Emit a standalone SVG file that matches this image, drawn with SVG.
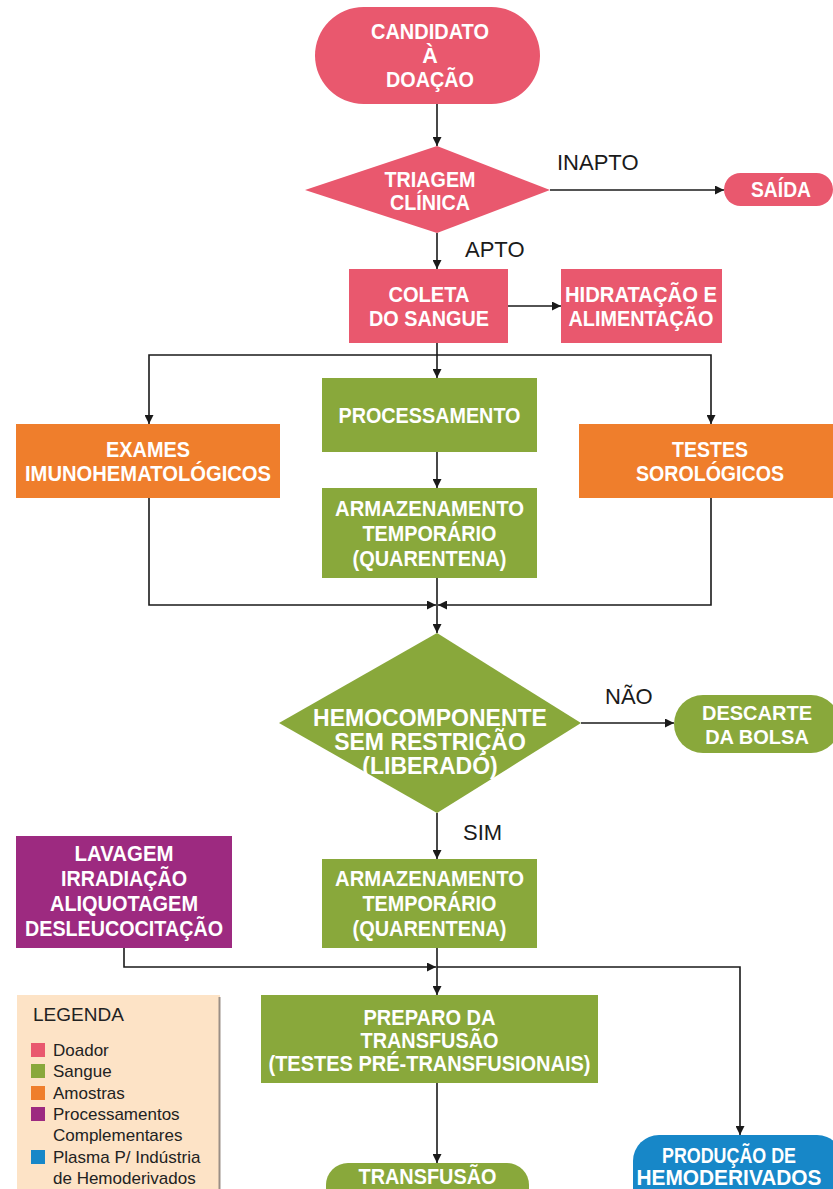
<svg xmlns="http://www.w3.org/2000/svg" width="833" height="1189" viewBox="0 0 833 1189">
<defs>
<marker id="arr" viewBox="0 0 10 10" refX="10" refY="5" markerWidth="10" markerHeight="9" markerUnits="userSpaceOnUse" orient="auto">
<path d="M0,0 L10,5 L0,10 z" fill="#1a1a1a"/>
</marker>
<style>
.pink{fill:#E9586E}
.green{fill:#89A83B}
.orange{fill:#EF7E2C}
.purple{fill:#9D2A80}
.blue{fill:#1787C8}
.t{font-family:"Liberation Sans",Arial,sans-serif;font-weight:bold;font-size:21.5px;fill:#fff;text-anchor:middle}
.big{font-size:23px}
.md{font-size:20px}
.lbl{font-family:"Liberation Sans",Arial,sans-serif;font-size:22px;fill:#1a1a1a}
.leg{font-family:"Liberation Sans",Arial,sans-serif;font-size:17px;fill:#222}
.c{fill:none;stroke:#1a1a1a;stroke-width:1.6;marker-end:url(#arr)}
</style>
</defs>
<rect width="833" height="1189" fill="#fff"/>

<g id="connectors">
<path class="c" d="M437,104 V146"/>
<path class="c" d="M550,190 H724"/>
<path class="c" d="M437,233 V269"/>
<path class="c" d="M508,306 H561"/>
<path class="c" d="M437,343 V378"/>
<path class="c" d="M437,355 H149 V424"/>
<path class="c" d="M437,355 H711 V424"/>
<path class="c" d="M437,452 V488"/>
<path class="c" d="M149,498 V605 H436"/>
<path class="c" d="M711,498 V605 H438"/>
<path class="c" d="M437,578 V633"/>
<path class="c" d="M581,723 H674"/>
<path class="c" d="M437,813 V859"/>
<path class="c" d="M124,948 V967 H436"/>
<path class="c" d="M437,948 V995"/>
<path class="c" d="M437,967 H740 V1135"/>
<path class="c" d="M437,1083 V1163"/>
<text class="lbl" x="557" y="170">INAPTO</text>
<text class="lbl" x="465" y="257">APTO</text>
<text class="lbl" x="605" y="704">NÃO</text>
<text class="lbl" x="463" y="840">SIM</text>
</g>

<g id="candidato">
<rect class="pink" x="315" y="7" width="225" height="97" rx="48.5"/>
<text class="t" x="430" y="39" textLength="118" lengthAdjust="spacingAndGlyphs">CANDIDATO</text>
<text class="t" x="430" y="63">À</text>
<text class="t" x="430" y="87" textLength="88" lengthAdjust="spacingAndGlyphs">DOAÇÃO</text>
</g>

<g id="triagem">
<polygon class="pink" points="305,190 437,146 550,190 437,233"/>
<text class="t" x="430" y="187" textLength="91" lengthAdjust="spacingAndGlyphs">TRIAGEM</text>
<text class="t" x="430" y="210" textLength="80" lengthAdjust="spacingAndGlyphs">CLÍNICA</text>
</g>

<g id="saida">
<rect class="pink" x="724" y="173" width="109" height="33" rx="16.5"/>
<text class="t" x="781" y="197" textLength="60" lengthAdjust="spacingAndGlyphs">SAÍDA</text>
</g>

<g id="coleta">
<rect class="pink" x="349" y="269" width="159" height="74"/>
<text class="t" x="429" y="302" textLength="81" lengthAdjust="spacingAndGlyphs">COLETA</text>
<text class="t" x="429" y="326" textLength="120" lengthAdjust="spacingAndGlyphs">DO SANGUE</text>
</g>

<g id="hidratacao">
<rect class="pink" x="561" y="269" width="161" height="74"/>
<text class="t" x="641" y="302" textLength="152" lengthAdjust="spacingAndGlyphs">HIDRATAÇÃO E</text>
<text class="t" x="641" y="326" textLength="145" lengthAdjust="spacingAndGlyphs">ALIMENTAÇÃO</text>
</g>

<g id="processamento">
<rect class="green" x="322" y="378" width="215" height="74"/>
<text class="t" x="429.5" y="423" textLength="182" lengthAdjust="spacingAndGlyphs">PROCESSAMENTO</text>
</g>

<g id="exames">
<rect class="orange" x="16" y="424" width="264" height="74"/>
<text class="t" x="148" y="457" textLength="84" lengthAdjust="spacingAndGlyphs">EXAMES</text>
<text class="t" x="148" y="481" textLength="246" lengthAdjust="spacingAndGlyphs">IMUNOHEMATOLÓGICOS</text>
</g>

<g id="testes">
<rect class="orange" x="579" y="424" width="254" height="74"/>
<text class="t" x="710" y="457" textLength="76" lengthAdjust="spacingAndGlyphs">TESTES</text>
<text class="t" x="710" y="481" textLength="148" lengthAdjust="spacingAndGlyphs">SOROLÓGICOS</text>
</g>

<g id="armazenamento1">
<rect class="green" x="322" y="488" width="215" height="90"/>
<text class="t" x="429.5" y="516" textLength="189" lengthAdjust="spacingAndGlyphs">ARMAZENAMENTO</text>
<text class="t" x="429.5" y="541" textLength="134" lengthAdjust="spacingAndGlyphs">TEMPORÁRIO</text>
<text class="t" x="429.5" y="566" textLength="154" lengthAdjust="spacingAndGlyphs">(QUARENTENA)</text>
</g>

<g id="hemocomponente">
<polygon class="green" points="279,723 437,633 581,723 437,813"/>
<text class="t big" x="430" y="726">HEMOCOMPONENTE</text>
<text class="t big" x="430" y="750">SEM RESTRIÇÃO</text>
<text class="t big" x="430" y="774">(LIBERADÓ)</text>
</g>

<g id="descarte">
<rect class="green" x="674" y="695" width="166" height="58" rx="29"/>
<text class="t md" x="757" y="720">DESCARTE</text>
<text class="t md" x="757" y="744">DA BOLSA</text>
</g>

<g id="lavagem">
<rect class="purple" x="16" y="836" width="216" height="112"/>
<text class="t" x="124" y="861" textLength="99" lengthAdjust="spacingAndGlyphs">LAVAGEM</text>
<text class="t" x="124" y="886" textLength="126" lengthAdjust="spacingAndGlyphs">IRRADIAÇÃO</text>
<text class="t" x="124" y="911" textLength="148" lengthAdjust="spacingAndGlyphs">ALIQUOTAGEM</text>
<text class="t" x="124" y="936" textLength="198" lengthAdjust="spacingAndGlyphs">DESLEUCOCITAÇÃO</text>
</g>

<g id="armazenamento2">
<rect class="green" x="322" y="859" width="215" height="89"/>
<text class="t" x="429.5" y="886" textLength="189" lengthAdjust="spacingAndGlyphs">ARMAZENAMENTO</text>
<text class="t" x="429.5" y="911" textLength="134" lengthAdjust="spacingAndGlyphs">TEMPORÁRIO</text>
<text class="t" x="429.5" y="936" textLength="154" lengthAdjust="spacingAndGlyphs">(QUARENTENA)</text>
</g>

<g id="preparo">
<rect class="green" x="261" y="995" width="337" height="88"/>
<text class="t" x="429.5" y="1025" textLength="132" lengthAdjust="spacingAndGlyphs">PREPARO DA</text>
<text class="t" x="429.5" y="1048" textLength="138" lengthAdjust="spacingAndGlyphs">TRANSFUSÃO</text>
<text class="t" x="429.5" y="1071" textLength="322" lengthAdjust="spacingAndGlyphs">(TESTES PRÉ-TRANSFUSIONAIS)</text>
</g>

<g id="transfusao">
<rect class="green" x="326" y="1163" width="203" height="50" rx="22"/>
<text class="t" x="427.5" y="1184" textLength="138" lengthAdjust="spacingAndGlyphs">TRANSFUSÃO</text>
</g>

<g id="producao">
<rect class="blue" x="633" y="1135" width="210" height="80" rx="26"/>
<text class="t" x="729" y="1163" textLength="134" lengthAdjust="spacingAndGlyphs">PRODUÇÃO DE</text>
<text class="t" x="729" y="1185" textLength="185" lengthAdjust="spacingAndGlyphs">HEMODERIVADOS</text>
</g>

<g id="legenda">
<rect x="17" y="995" width="203" height="200" fill="#FDE3C6"/>
<line x1="219.5" y1="997" x2="219.5" y2="1189" stroke="#9a8f86" stroke-width="2"/>
<text class="leg" x="33" y="1021" style="font-size:19px">LEGENDA</text>
<rect class="pink" x="31" y="1043" width="14" height="14"/>
<text class="leg" x="53" y="1056">Doador</text>
<rect class="green" x="31" y="1064" width="14" height="14"/>
<text class="leg" x="53" y="1077">Sangue</text>
<rect class="orange" x="31" y="1086" width="14" height="14"/>
<text class="leg" x="53" y="1099">Amostras</text>
<rect class="purple" x="31" y="1107" width="14" height="14"/>
<text class="leg" x="53" y="1120">Processamentos</text>
<text class="leg" x="53" y="1141">Complementares</text>
<rect class="blue" x="31" y="1150" width="14" height="14"/>
<text class="leg" x="53" y="1163">Plasma P/ Indústria</text>
<text class="leg" x="53" y="1184">de Hemoderivados</text>
</g>
</svg>
